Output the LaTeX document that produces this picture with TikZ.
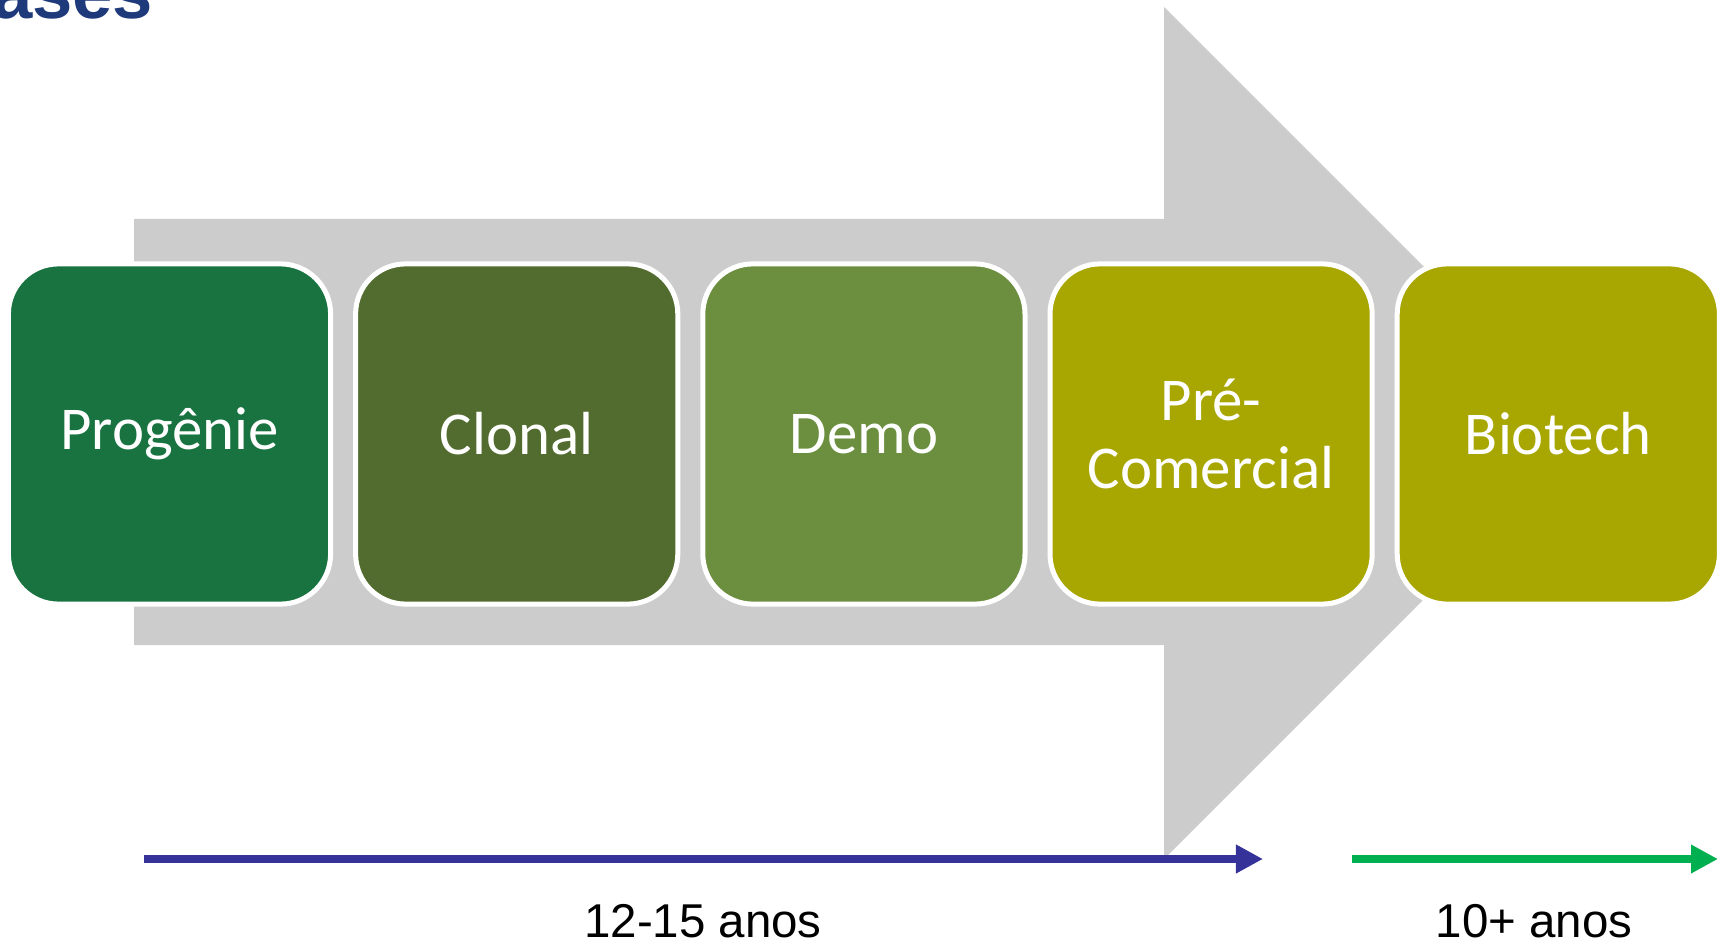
\documentclass[tikz,border=0pt]{standalone}
\usepackage{fontspec}
\setmainfont{Liberation Sans}
\newfontfamily\stagefont{Carlito}
\usepackage{tikz}
\usetikzlibrary{arrows.meta, positioning}
\definecolor{progenie}{RGB}{24, 115, 64}
\definecolor{clonal}{RGB}{82, 107, 47}
\definecolor{demo}{RGB}{108, 142, 63}
\definecolor{olive}{RGB}{168, 166, 0}
\definecolor{shaftgray}{RGB}{204, 204, 204}
\definecolor{timeblue}{RGB}{53, 51, 154}
\definecolor{timegreen}{RGB}{0, 176, 80}
\definecolor{titleblue}{RGB}{31, 58, 122}

\tikzset{
  stagebox/.style={draw=white, line width=0.05cm, rounded corners=0.5cm,
    minimum width=3.22cm, minimum height=3.4cm, align=center, text=white,
    font=\stagefont\fontsize{17.3}{19.5}\selectfont},
  timeline/.style={line width=0.08cm, -{Triangle[length=0.27cm, width=0.27cm]}},
  timelabel/.style={font=\fontsize{13.5}{16}\selectfont}
}

\begin{document}
\begin{tikzpicture}[x=0.01cm, y=-0.01cm]
  \useasboundingbox (0,0) rectangle (1727,943);

  % big gray arrow behind the stages
  \fill[shaftgray] (134,219) -- (1164,219) -- (1164,7) -- (1590,433)
    -- (1164,859) -- (1164,645) -- (134,645) -- cycle;

  % title, cut at the page edge
  \node[anchor=base east, inner sep=0pt, text=titleblue,
    font=\bfseries\fontsize{20.6}{24}\selectfont] (title) at (154,19) {ases};

  % stages
  \node[stagebox, fill=progenie] (prog) at (169.5,434) {Progênie};
  \node[stagebox, fill=clonal, right=0.2cm of prog] (clon) {Clonal};
  \node[stagebox, fill=demo, right=0.2cm of clon] (demo) {Demo};
  \node[stagebox, fill=olive, right=0.2cm of demo] (prec) {Pré-\\Comercial};
  \node[stagebox, fill=olive, right=0.2cm of prec] (biot) {Biotech};

  % time lines
  \coordinate (bluestart) at (144,859);
  \coordinate (blueend) at (1263,859);
  \coordinate (greenstart) at (1352,859);
  \coordinate (greenend) at (1718,859);
  \draw[timeline, timeblue] (bluestart) -- (blueend);
  \draw[timeline, timegreen] (greenstart) -- (greenend);

  \node[timelabel] (conv) at (703,921) {12-15 anos};
  \node[timelabel] (trans) at (1534,921) {10+ anos};
\end{tikzpicture}
\end{document}
